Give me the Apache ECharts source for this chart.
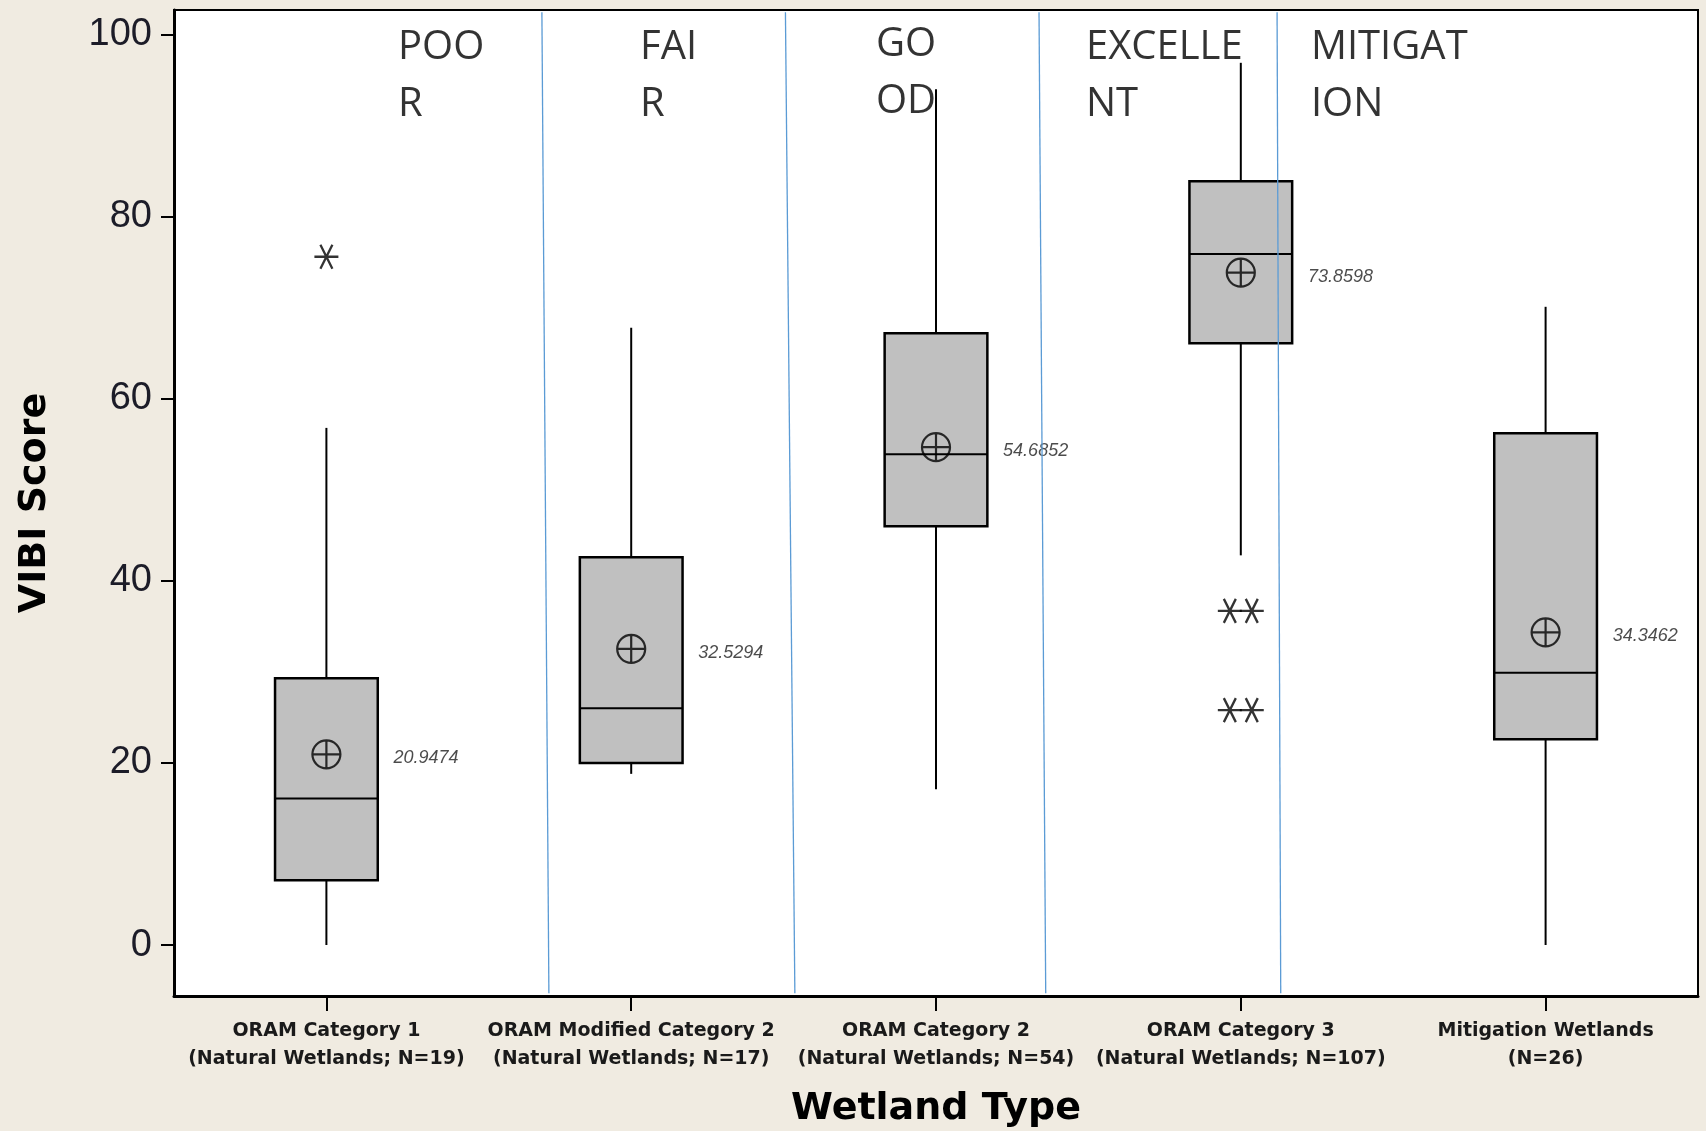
<!DOCTYPE html>
<html><head><meta charset="utf-8">
<script src="https://cdn.jsdelivr.net/npm/echarts@6/dist/echarts.min.js"></script>
<style>html,body{margin:0;padding:0;background:#f0ebe1;}#c{width:1706px;height:1131px;}</style>
</head><body><div id="c"></div>
<script>
// ---- data ----
const categories = [
  'ORAM Category 1\n(Natural Wetlands; N=19)',
  'ORAM Modified Category 2\n(Natural Wetlands; N=17)',
  'ORAM Category 2\n(Natural Wetlands; N=54)',
  'ORAM Category 3\n(Natural Wetlands; N=107)',
  'Mitigation Wetlands\n(N=26)'
];
const whiskerLow  = [0,    18.8, 17.1, 42.8, 0];
const q1          = [7.1,  20.0, 46.0, 66.1, 22.6];
const median      = [16.1, 26.0, 53.9, 75.9, 29.9];
const q3          = [29.3, 42.6, 67.2, 83.9, 56.2];
const whiskerHigh = [56.8, 67.8, 94.0, 96.9, 70.1];
const means       = [20.9474, 32.5294, 54.6852, 73.8598, 34.3462];
const meanLabels  = ['20.9474', '32.5294', '54.6852', '73.8598', '34.3462'];
const outliers    = [[0, 75.6], [3, 36.7], [3, 36.7], [3, 25.8], [3, 25.8]]; // [category index, score]
const yTicks      = [0, 20, 40, 60, 80, 100];
const ratingLabels  = ['POO\nR', 'FAI\nR', 'GO\nOD', 'EXCELLE\nNT', 'MITIGAT\nION'];
const ratingAnchors = [[0.735, 95.4], [1.529, 95.4], [2.303, 95.75], [2.992, 95.4], [3.73, 95.4]]; // [category units, score]
const dividers      = [[1.207, 1.230], [2.006, 2.037], [2.838, 2.860], [3.619, 3.631]]; // [x at top, x at bottom] in category units
const dividerTop = 102.45, dividerBottom = -5.3;

// ---- build ----
const boxRows = categories.map((c, i) => [i, whiskerLow[i], q1[i], median[i], q3[i], whiskerHigh[i]]);

// displace tied outliers side by side
const outlierPts = [];
const groups = {};
outliers.forEach(o => { const k = o[0] + '|' + o[1]; (groups[k] = groups[k] || []).push(o); });
Object.values(groups).forEach(g => {
  g.forEach((o, k) => outlierPts.push([o[0] + 0.5 + (k - (g.length - 1) / 2) * 0.072, o[1]]));
});

const meanPath = 'path://M0,-10A10,10,0,1,1,0,10A10,10,0,1,1,0,-10ZM-10,0L10,0M0,-10L0,10';
const starPath = 'path://M-10,0L10,0M-5,-8.66L5,8.66M-5,8.66L5,-8.66';

const series = [
  {
    type: 'custom', xAxisIndex: 0, yAxisIndex: 0, z: 2, silent: true,
    encode: { x: 0, y: [1, 2, 3, 4, 5] },
    data: boxRows,
    renderItem(params, api) {
      const i = api.value(0);
      const pLow = api.coord([i, api.value(1)]);
      const pQ1 = api.coord([i, api.value(2)]);
      const pMed = api.coord([i, api.value(3)]);
      const pQ3 = api.coord([i, api.value(4)]);
      const pHigh = api.coord([i, api.value(5)]);
      const bw = api.size([1, 0])[0] * 0.337;
      const x = pMed[0];
      return { type: 'group', children: [
        { type: 'line', shape: { x1: x, y1: pHigh[1], x2: x, y2: pQ3[1] }, style: { stroke: '#000', lineWidth: 2 } },
        { type: 'line', shape: { x1: x, y1: pQ1[1], x2: x, y2: pLow[1] }, style: { stroke: '#000', lineWidth: 2 } },
        { type: 'rect', shape: { x: x - bw / 2, y: pQ3[1], width: bw, height: pQ1[1] - pQ3[1] },
          style: { fill: '#c0c0c0', stroke: '#000', lineWidth: 2.5 } },
        { type: 'line', shape: { x1: x - bw / 2, y1: pMed[1], x2: x + bw / 2, y2: pMed[1] }, style: { stroke: '#000', lineWidth: 2 } }
      ]};
    }
  },
  {
    type: 'scatter', xAxisIndex: 0, yAxisIndex: 0, z: 4, silent: true,
    symbol: meanPath, symbolSize: 28,
    itemStyle: { color: 'rgba(0,0,0,0)', borderColor: '#000', borderWidth: 2.2 },
    data: means.map((m, i) => [i, m]),
    label: {
      show: true, position: 'right', distance: 52, offset: [0, 4],
      formatter: p => meanLabels[p.dataIndex],
      color: '#1e1e1e', fontStyle: 'italic', fontSize: 18, fontFamily: 'Liberation Sans, Arial, sans-serif'
    }
  },
  {
    type: 'scatter', xAxisIndex: 1, yAxisIndex: 0, z: 4, silent: true,
    symbol: starPath, symbolSize: [24, 24],
    itemStyle: { color: 'rgba(0,0,0,0)', borderColor: '#000', borderWidth: 2.3 },
    data: outlierPts
  },
  {
    type: 'scatter', xAxisIndex: 1, yAxisIndex: 0, z: 6, silent: true,
    symbolSize: 0,
    data: ratingAnchors.map((a, i) => [a[0], a[1], ratingLabels[i]]),
    label: {
      show: true, position: 'right', distance: 0, align: 'left', verticalAlign: 'middle',
      formatter: p => p.data[2],
      color: '#000', fontSize: 40, lineHeight: 57, fontFamily: 'Open Sans, Noto Sans, sans-serif'
    }
  }
];
dividers.forEach(d => series.push({
  type: 'line', xAxisIndex: 1, yAxisIndex: 0, z: 5, silent: true,
  symbol: 'none', animation: false,
  lineStyle: { color: '#5b9bd5', width: 1.3 },
  data: [[d[0], dividerTop], [d[1], dividerBottom]]
}));

const chart = echarts.init(document.getElementById('c'), null, { renderer: 'canvas' });
chart.setOption({
  animation: false,
  backgroundColor: '#f0ebe1',
  grid: { left: 174, right: 8, top: 10, bottom: 135, containLabel: false, outerBoundsMode: 'none',
          show: true, backgroundColor: '#ffffff', borderColor: '#000', borderWidth: 2 },
  xAxis: [
    {
      type: 'category', data: categories, boundaryGap: true,
      axisLine: { show: true, onZero: false, lineStyle: { color: '#000', width: 3 } },
      axisTick: { show: true, alignWithLabel: true, length: 15, lineStyle: { color: '#000', width: 2 } },
      axisLabel: { margin: 21, fontFamily: 'DejaVu Sans, sans-serif', fontWeight: 'bold', fontSize: 19, lineHeight: 28, color: '#1a1a1a', interval: 0 },
      splitLine: { show: false },
      name: 'Wetland Type', nameLocation: 'middle', nameGap: 94,
      nameTextStyle: { fontFamily: 'DejaVu Sans, sans-serif', fontWeight: 'bold', fontSize: 38, color: '#000' }
    },
    { type: 'value', min: 0, max: 5, show: false, position: 'top', axisLine: { onZero: false } }
  ],
  yAxis: {
    type: 'value', min: -5.6, max: 102.7,
    axisLine: { show: true, onZero: false, lineStyle: { color: '#000', width: 3 } },
    axisTick: { show: true, length: 13, lineStyle: { color: '#000', width: 2 }, customValues: yTicks },
    axisLabel: { customValues: yTicks, margin: 22, fontFamily: 'Liberation Sans, Arial, sans-serif', fontSize: 38, color: '#1c1c28' },
    splitLine: { show: false },
    name: 'VIBI Score', nameLocation: 'middle', nameGap: 120,
    nameTextStyle: { fontFamily: 'DejaVu Sans, sans-serif', fontWeight: 'bold', fontSize: 38, color: '#000' }
  },
  series
});
</script>
</body></html>
